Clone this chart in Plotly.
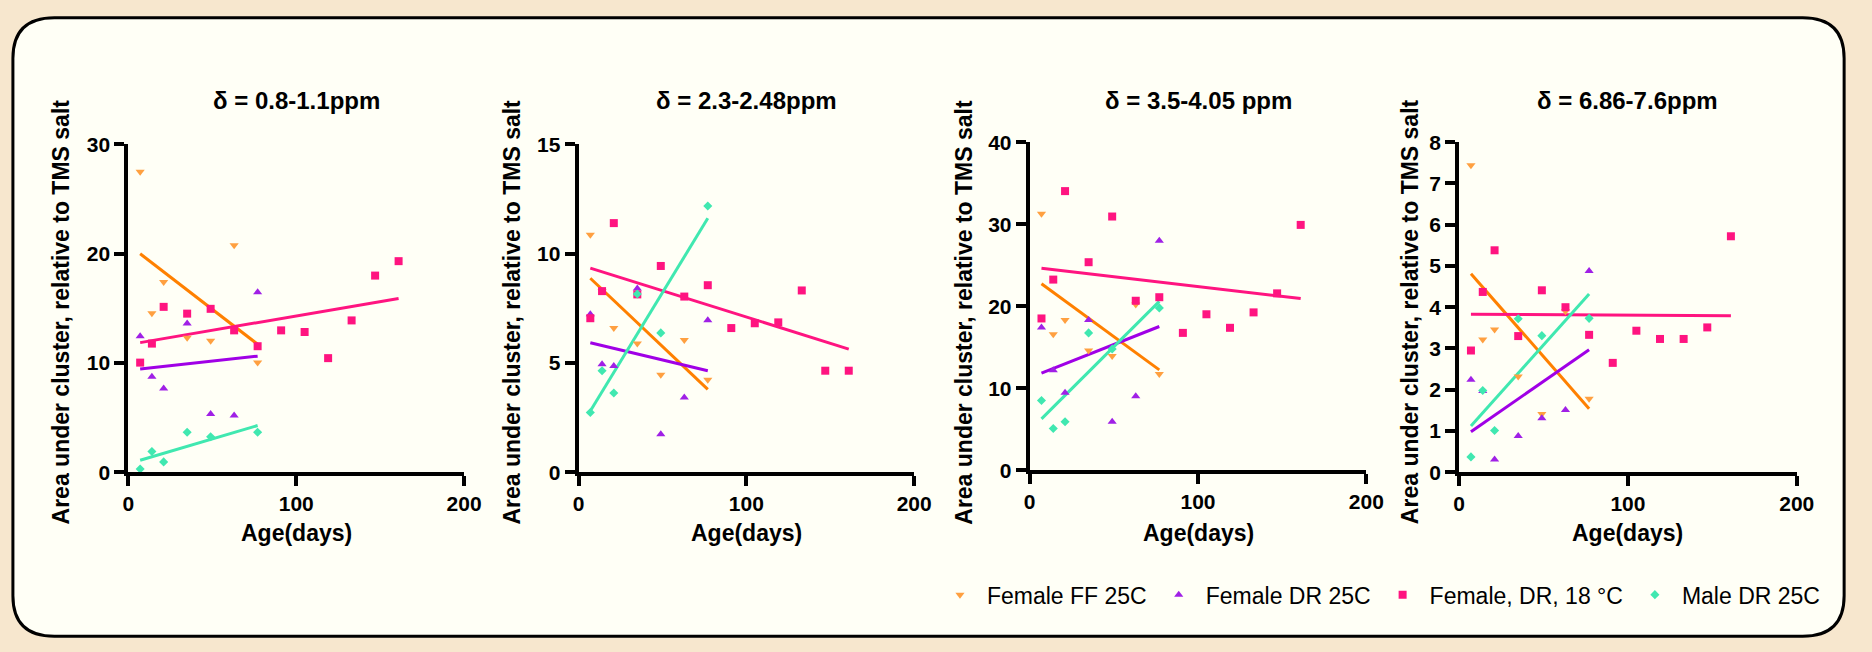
import plotly.graph_objects as go

# ---------------- data ----------------
ages_25 = [7, 14, 21, 35, 49, 63, 77]
ages_18 = [7, 14, 21, 35, 49, 63, 77, 91, 105, 119, 133, 147, 161]
ages_male = [7, 14, 21, 35, 49, 77]

panel_titles = ["δ = 0.8-1.1ppm", "δ = 2.3-2.48ppm", "δ = 3.5-4.05 ppm", "δ = 6.86-7.6ppm"]
y_max = [30, 15, 40, 8]
y_step = [10, 5, 10, 1]
x_ticks = [0, 100, 200]

series_names = ["Female FF 25C", "Female DR 25C", "Female, DR, 18 °C", "Male DR 25C"]

# panel 1: δ 0.8-1.1
ff25_p1 = [27.47, 14.53, 17.39, 12.29, 12.02, 20.75, 10.02]
dr25_p1 = [12.44, 8.72, 7.66, 13.59, 5.33, 5.19, 16.45]
dr18_p1 = [10.02, 11.76, 15.12, 14.50, 14.94, 12.97, 11.52, 12.97, 12.82, 10.43, 13.88, 17.98, 19.30]
male_p1 = [0.29, 1.89, 0.94, 3.65, 3.24, 3.65]
# panel 2: δ 2.3-2.48
ff25_p2 = [10.86, 8.28, 6.59, 5.89, 4.45, 6.04, 4.23]
dr25_p2 = [7.22, 4.94, 4.86, 8.40, 1.74, 3.42, 6.95]
dr18_p2 = [7.04, 8.28, 11.39, 8.13, 9.43, 8.03, 8.55, 6.59, 6.81, 6.85, 8.31, 4.64, 4.64]
male_p2 = [2.73, 4.64, 3.62, 8.15, 6.37, 12.17]
# panel 3: δ 3.5-4.05
ff25_p3 = [31.29, 16.59, 18.31, 14.59, 13.92, 20.20, 11.73]
dr25_p3 = [17.41, 12.20, 9.45, 18.31, 5.92, 9.02, 28.00]
dr18_p3 = [18.51, 23.25, 34.04, 25.37, 30.94, 20.67, 21.10, 16.75, 19.02, 17.37, 19.25, 21.57, 29.92]
male_p3 = [8.51, 5.10, 5.92, 16.75, 14.78, 19.80]
# panel 4: δ 6.86-7.6
ff25_p4 = [7.44, 3.22, 3.46, 2.32, 1.41, 3.90, 1.78]
dr25_p4 = [2.24, 1.97, 0.31, 0.88, 1.31, 1.51, 4.88]
dr18_p4 = [2.95, 4.37, 5.38, 3.30, 4.41, 4.00, 3.33, 2.65, 3.43, 3.23, 3.23, 3.51, 5.72]
male_p4 = [0.37, 1.98, 1.01, 3.72, 3.31, 3.73]

# linear fit lines (value at first and last age)
fit_x_25 = [7, 77]
fit_x_18 = [7, 161]
fit_ff25 = [[19.98, 11.70], [8.87, 3.79], [22.75, 12.24], [4.81, 1.54]]
fit_dr25 = [[9.43, 10.61], [5.92, 4.64], [11.84, 17.53], [0.98, 2.97]]
fit_dr18 = [[11.85, 15.89], [9.33, 5.63], [24.63, 20.94], [3.83, 3.79]]
fit_male = [[1.09, 4.27], [2.80, 11.61], [6.27, 20.59], [1.12, 4.32]]

ff25 = [ff25_p1, ff25_p2, ff25_p3, ff25_p4]
dr25 = [dr25_p1, dr25_p2, dr25_p3, dr25_p4]
dr18 = [dr18_p1, dr18_p2, dr18_p3, dr18_p4]
male = [male_p1, male_p2, male_p3, male_p4]

# ---------------- style ----------------
W, H = 1872, 652
FONT = "Liberation Sans"
marker_col = ["#FFA040", "#A020E6", "#FF1480", "#40E8B0"]
line_col = ["#FF8000", "#A000E6", "#FF1480", "#40E8B0"]
symbols = ["triangle-down", "triangle-up", "square", "diamond"]
sizes = [8, 8, 8, 7]

# plot areas in pixels: (left, right, top, bottom)
boxes = [(124, 464, 137, 477), (580, 920, 137, 477), (1037, 1378, 135, 475), (1472, 1814, 135, 477)]
ytitle_shift = [-67, -67, -66, -49]


def px(x):
    return x / W


def py(y):
    return 1 - y / H


fig = go.Figure()

for i in range(4):
    xa = "x" if i == 0 else f"x{i+1}"
    ya = "y" if i == 0 else f"y{i+1}"
    xs_list = [ages_25, ages_25, ages_18, ages_male]
    ys_list = [ff25[i], dr25[i], dr18[i], male[i]]
    fits = [fit_ff25[i], fit_dr25[i], fit_dr18[i], fit_male[i]]
    fit_xs = [fit_x_25, fit_x_25, fit_x_18, fit_x_25]
    for k in range(4):
        fig.add_trace(go.Scatter(
            x=fit_xs[k], y=fits[k], mode="lines",
            line=dict(color=line_col[k], width=3),
            xaxis=xa, yaxis=ya, showlegend=False, hoverinfo="skip"))
    for k in range(4):
        fig.add_trace(go.Scatter(
            x=xs_list[k], y=ys_list[k], mode="markers",
            marker=dict(symbol=symbols[k], size=sizes[k], color=marker_col[k], line=dict(width=0)),
            name=series_names[k], legendgroup=series_names[k],
            xaxis=xa, yaxis=ya, showlegend=(i == 0), cliponaxis=False))

layout = dict(
    width=W, height=H,
    margin=dict(l=0, r=0, t=0, b=0),
    paper_bgcolor="#F7E7CE",
    plot_bgcolor="rgba(0,0,0,0)",
    font=dict(family=FONT, color="black"),
    showlegend=True,
    legend=dict(orientation="h", x=px(939), xanchor="left", y=py(604), yanchor="middle",
                font=dict(family=FONT, size=23, color="black"), bgcolor="rgba(0,0,0,0)",
                itemwidth=44, tracegroupgap=0),
)

annotations = []
for i, (l, r, t, b) in enumerate(boxes):
    sfx = "" if i == 0 else str(i + 1)
    layout["xaxis" + sfx] = dict(
        domain=[px(l), px(r)], range=[0, 200], anchor="y" + sfx,
        tickvals=x_ticks, ticks="outside", ticklen=10, tickwidth=4, tickcolor="black",
        showline=True, linewidth=4, linecolor="black", showgrid=False, zeroline=False,
        tickfont=dict(family=FONT, size=21, color="black", weight="bold"))
    layout["yaxis" + sfx] = dict(
        domain=[py(b), py(t)], range=[0, y_max[i]], anchor="x" + sfx,
        dtick=y_step[i], tick0=0, ticks="outside", ticklen=10, tickwidth=4, tickcolor="black",
        showline=True, linewidth=4, linecolor="black", showgrid=False, zeroline=False,
        tickfont=dict(family=FONT, size=21, color="black", weight="bold"))
    xd = ("x" if i == 0 else f"x{i+1}") + " domain"
    annotations.append(dict(text=panel_titles[i], xref=xd, x=0.5, yref="paper", y=py(92),
                            showarrow=False, xanchor="center", yanchor="middle",
                            font=dict(family=FONT, size=24, weight="bold")))
    annotations.append(dict(text="Age(days)", xref=xd, x=0.5, yref="paper", y=py(540),
                            showarrow=False, xanchor="center", yanchor="middle",
                            font=dict(family=FONT, size=23, weight="bold")))
    annotations.append(dict(text="Area under cluster, relative to TMS salt", xref=xd, x=0,
                            xshift=ytitle_shift[i], yref="paper", y=py(311), textangle=-90,
                            showarrow=False, xanchor="center", yanchor="middle",
                            font=dict(family=FONT, size=23, weight="bold")))
layout["annotations"] = annotations

# rounded white card behind everything
L, T, R, B, rad = 7, 6, 1862, 647, 42
path = (f"M {px(L)},{py(T + rad)} "
        f"Q {px(L)},{py(T)} {px(L + rad)},{py(T)} "
        f"L {px(R - rad)},{py(T)} "
        f"Q {px(R)},{py(T)} {px(R)},{py(T + rad)} "
        f"L {px(R)},{py(B - rad)} "
        f"Q {px(R)},{py(B)} {px(R - rad)},{py(B)} "
        f"L {px(L + rad)},{py(B)} "
        f"Q {px(L)},{py(B)} {px(L)},{py(B - rad)} Z")
layout["shapes"] = [dict(type="path", path=path, xref="paper", yref="paper",
                         fillcolor="#FFFFF6", line=dict(color="black", width=3), layer="below")]

fig.update_layout(**layout)
fig.write_html("out.html")
